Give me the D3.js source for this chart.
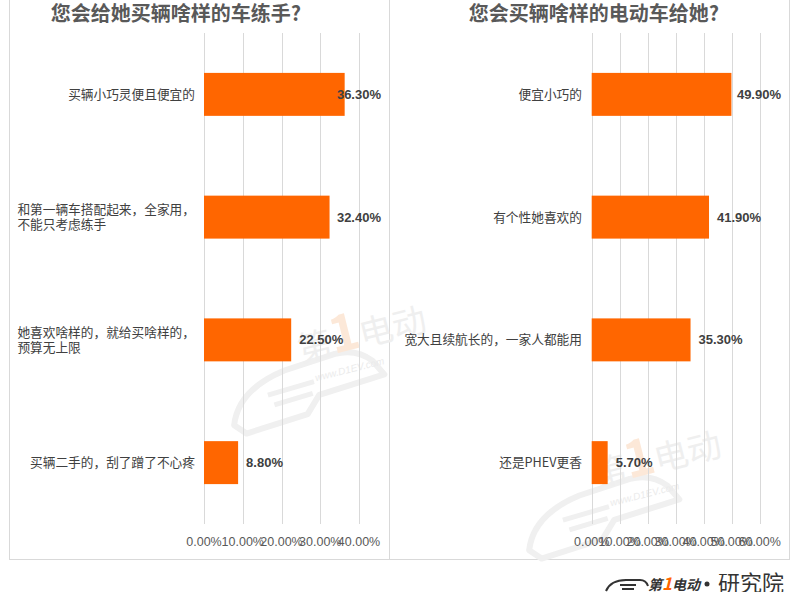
<!DOCTYPE html>
<html><head><meta charset="utf-8">
<script src="https://cdn.jsdelivr.net/npm/d3@7"></script>
<style>body{margin:0;background:#fff}svg{display:block}</style>
</head><body>
<svg id="c" width="796" height="592"></svg>
<script>
const leftTitle = "您会给她买辆啥样的车练手?";
const leftCats = [["买辆小巧灵便且便宜的"],["和第一辆车搭配起来，全家用，","不能只考虑练手"],["她喜欢啥样的，就给买啥样的，","预算无上限"],["买辆二手的，刮了蹭了不心疼"]];
const leftVals = [0.363, 0.324, 0.225, 0.088];
const leftTicks = [0, 0.1, 0.2, 0.3, 0.4];

const rightTitle = "您会买辆啥样的电动车给她?";
const rightCats = [["便宜小巧的"],["有个性她喜欢的"],["宽大且续航长的，一家人都能用"],["还是PHEV更香"]];
const rightVals = [0.499, 0.419, 0.353, 0.057];
const rightTicks = [0, 0.1, 0.2, 0.3, 0.4, 0.5, 0.6];

const svg = d3.select("#c");
const FONT = "'Liberation Sans','Noto Sans CJK SC',sans-serif";
const CJK = "'Noto Sans CJK SC','Liberation Sans',sans-serif";
const ORANGE = "#ff6600";

// panel borders
svg.append("rect").attr("x",9.5).attr("y",-2).attr("width",380).attr("height",561.5).attr("fill","none").attr("stroke","#d9d9d9");
svg.append("rect").attr("x",389.5).attr("y",-2).attr("width",400).attr("height",561.5).attr("fill","none").attr("stroke","#d9d9d9");

function watermark(g, cx, cy){
  const w = g.append("g").attr("transform",`translate(${cx},${cy}) rotate(-14)`);
  w.append("path").attr("d","M-110,45 C-100,18 -75,8 -48,4 L5,0 C22,0 32,6 40,16 L48,32 L-20,36 L-36,52 L-100,56 Z")
    .attr("fill","none").attr("stroke","#f0f0f0").attr("stroke-width",6).attr("stroke-linejoin","round");
  w.append("path").attr("d","M-70,24 L-22,22 M-66,35 L-26,33").attr("stroke","#f0f0f0").attr("stroke-width",5);
  const t = w.append("text").attr("x",-30).attr("y",0).attr("font-family",CJK).attr("font-size",34).attr("fill","#efefef");
  t.append("tspan").text("第");
  t.append("tspan").attr("fill","#fce8d8").attr("font-size",50).attr("font-weight","bold").text("1");
  t.append("tspan").text("电动");
  w.append("text").attr("x",-20).attr("y",22).attr("font-family",FONT).attr("font-size",10).attr("font-style","italic").attr("fill","#ebebeb").text("www.D1EV.com");
}

function panel(opts){
  const g = svg.append("g");
  const x = d3.scaleLinear().domain(opts.domain).range(opts.xr);
  const y = d3.scaleBand().domain(d3.range(opts.vals.length)).range([33,524]).paddingInner(0.65).paddingOuter(0.325);
  if (opts.wm) opts.wm(g);
  g.selectAll("line.grid").data(opts.ticks).join("line")
    .attr("x1",d=>Math.round(x(d))+0.5).attr("x2",d=>Math.round(x(d))+0.5)
    .attr("y1",33).attr("y2",524).attr("stroke","#d9d9d9").attr("stroke-width",1);
  g.selectAll("text.tick").data(opts.ticks).join("text")
    .attr("x",d=>x(d)).attr("y",546).attr("text-anchor","middle")
    .attr("font-family",FONT).attr("font-size",12.5).attr("fill","#595959")
    .text(d=>d3.format(".2%")(d));
  g.selectAll("rect.bar").data(opts.vals).join("rect")
    .attr("x",x(0)).attr("y",(d,i)=>y(i)).attr("width",d=>x(d)-x(0)).attr("height",y.bandwidth())
    .attr("fill",ORANGE);
  g.selectAll("text.val").data(opts.vals).join("text")
    .attr("y",(d,i)=>y(i)+y.bandwidth()/2+4.5)
    .attr("font-family",FONT).attr("font-size",13).attr("font-weight","bold").attr("fill","#404040")
    .text(d=>d3.format(".2%")(d))
    .each(function(d){
      const w = this.getComputedTextLength();
      let sx = x(d)+8;
      if (sx + w > opts.labelMax) sx = opts.labelMax - w;
      d3.select(this).attr("x",sx);
    });
  opts.cats.forEach((lines,i)=>{
    const cy = y(i)+y.bandwidth()/2;
    const t = g.append("text").attr("font-family",CJK).attr("font-size",12.7).attr("fill","#404040");
    const lh = 15.5;
    const y0 = cy - (lines.length-1)*lh/2 + 4.5;
    const spans = lines.map((l,k)=>t.append("tspan").attr("y",y0+k*lh).text(l));
    let maxW = 0;
    spans.forEach(s=>{maxW=Math.max(maxW,s.node().getComputedTextLength());});
    spans.forEach(s=>s.attr("x",opts.catRight-maxW));
  });
  g.append("text").attr("x",opts.titleX).attr("y",21).attr("text-anchor","middle")
    .attr("font-family",CJK).attr("font-size",20).attr("font-weight","bold").attr("fill","#595959").text(opts.title);
}

panel({title:leftTitle, titleX:176, cats:leftCats, vals:leftVals, ticks:leftTicks, domain:[0,0.4], xr:[204,359], labelMax:381, catRight:195,
  wm:g=>watermark(g,330,355)});
panel({title:rightTitle, titleX:594, cats:rightCats, vals:rightVals, ticks:rightTicks, domain:[0,0.6], xr:[591.7,759.7], labelMax:781, catRight:582,
  wm:g=>watermark(g,625,480)});

// bottom-right logo
const logo = svg.append("g");
logo.append("path").attr("d","M606,591 C609,584 616,580 626,580 L640,580 C645,580 647,583 648,586")
  .attr("fill","none").attr("stroke","#333").attr("stroke-width",2);
logo.append("path").attr("d","M620,585 L636,585 M622,589 L634,589").attr("stroke","#333").attr("stroke-width",2);
const lt = logo.append("text").attr("x",648).attr("y",590).attr("font-family",CJK).attr("font-weight","bold").attr("font-size",14).attr("fill","#333").attr("font-style","italic");
lt.append("tspan").text("第");
lt.append("tspan").attr("fill",ORANGE).attr("font-size",17).text("1");
lt.append("tspan").text("电动");
logo.append("circle").attr("cx",707).attr("cy",584).attr("r",2.5).attr("fill","#333");
logo.append("text").attr("x",718).attr("y",591).attr("font-family",CJK).attr("font-size",22).attr("fill","#333").text("研究院");
</script>
</body></html>
